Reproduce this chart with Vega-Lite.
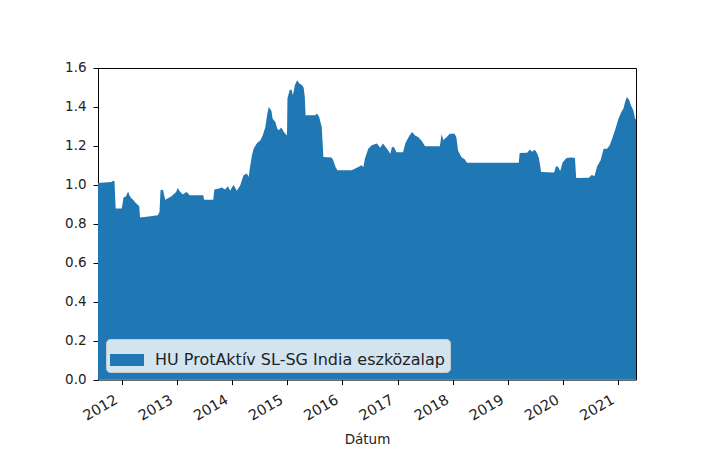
{
  "$schema": "https://vega.github.io/schema/vega-lite/v6.json",
  "width": 538,
  "height": 311.6,
  "autosize": "none",
  "padding": {"left": 98, "top": 68, "right": 71, "bottom": 88},
  "background": "white",
  "config": {
    "view": {"stroke": "black", "strokeWidth": 1},
    "font": "DejaVu Sans"
  },
  "data": {
    "values": [
      {"date": "2011-07-28", "value": 1.01},
      {"date": "2011-10-27", "value": 1.015},
      {"date": "2011-11-01", "value": 1.02},
      {"date": "2011-11-14", "value": 1.02},
      {"date": "2011-11-22", "value": 0.878},
      {"date": "2012-01-01", "value": 0.878},
      {"date": "2012-01-06", "value": 0.9},
      {"date": "2012-01-13", "value": 0.935},
      {"date": "2012-01-29", "value": 0.94},
      {"date": "2012-02-08", "value": 0.96},
      {"date": "2012-02-14", "value": 0.963},
      {"date": "2012-02-21", "value": 0.945},
      {"date": "2012-03-06", "value": 0.93},
      {"date": "2012-03-15", "value": 0.925},
      {"date": "2012-03-28", "value": 0.912},
      {"date": "2012-04-19", "value": 0.895},
      {"date": "2012-04-26", "value": 0.89},
      {"date": "2012-05-01", "value": 0.832},
      {"date": "2012-06-28", "value": 0.838},
      {"date": "2012-08-27", "value": 0.844},
      {"date": "2012-09-07", "value": 0.86},
      {"date": "2012-09-14", "value": 0.972},
      {"date": "2012-09-30", "value": 0.975},
      {"date": "2012-10-15", "value": 0.924},
      {"date": "2012-10-30", "value": 0.93},
      {"date": "2012-11-23", "value": 0.94},
      {"date": "2012-12-08", "value": 0.95},
      {"date": "2012-12-26", "value": 0.963},
      {"date": "2013-01-06", "value": 0.985},
      {"date": "2013-01-16", "value": 0.97},
      {"date": "2013-02-08", "value": 0.951},
      {"date": "2013-03-03", "value": 0.963},
      {"date": "2013-03-11", "value": 0.96},
      {"date": "2013-03-25", "value": 0.946},
      {"date": "2013-06-24", "value": 0.946},
      {"date": "2013-06-29", "value": 0.924},
      {"date": "2013-08-29", "value": 0.924},
      {"date": "2013-09-05", "value": 0.976},
      {"date": "2013-09-30", "value": 0.98},
      {"date": "2013-10-24", "value": 0.986},
      {"date": "2013-11-15", "value": 0.976},
      {"date": "2013-12-04", "value": 0.993},
      {"date": "2013-12-19", "value": 0.97},
      {"date": "2014-01-10", "value": 1.0},
      {"date": "2014-02-01", "value": 0.97},
      {"date": "2014-02-23", "value": 0.997},
      {"date": "2014-03-17", "value": 1.049},
      {"date": "2014-04-09", "value": 1.058},
      {"date": "2014-04-20", "value": 1.04},
      {"date": "2014-05-01", "value": 1.1},
      {"date": "2014-05-12", "value": 1.152},
      {"date": "2014-05-23", "value": 1.186},
      {"date": "2014-06-15", "value": 1.215},
      {"date": "2014-07-07", "value": 1.229},
      {"date": "2014-07-22", "value": 1.254},
      {"date": "2014-08-09", "value": 1.297},
      {"date": "2014-08-20", "value": 1.357},
      {"date": "2014-08-31", "value": 1.4},
      {"date": "2014-09-18", "value": 1.379},
      {"date": "2014-09-26", "value": 1.34},
      {"date": "2014-10-14", "value": 1.323},
      {"date": "2014-10-26", "value": 1.289},
      {"date": "2014-11-05", "value": 1.28},
      {"date": "2014-11-23", "value": 1.294},
      {"date": "2014-12-09", "value": 1.271},
      {"date": "2014-12-30", "value": 1.254},
      {"date": "2015-01-02", "value": 1.443},
      {"date": "2015-01-16", "value": 1.486},
      {"date": "2015-01-29", "value": 1.49},
      {"date": "2015-02-07", "value": 1.46},
      {"date": "2015-02-20", "value": 1.511},
      {"date": "2015-03-07", "value": 1.537},
      {"date": "2015-03-22", "value": 1.52},
      {"date": "2015-04-09", "value": 1.511},
      {"date": "2015-04-19", "value": 1.5},
      {"date": "2015-04-27", "value": 1.45},
      {"date": "2015-05-02", "value": 1.357},
      {"date": "2015-07-05", "value": 1.357},
      {"date": "2015-07-16", "value": 1.366},
      {"date": "2015-07-31", "value": 1.349},
      {"date": "2015-08-17", "value": 1.297},
      {"date": "2015-08-24", "value": 1.2},
      {"date": "2015-08-28", "value": 1.143},
      {"date": "2015-10-21", "value": 1.14},
      {"date": "2015-11-01", "value": 1.126},
      {"date": "2015-11-16", "value": 1.092},
      {"date": "2015-11-29", "value": 1.075},
      {"date": "2016-03-01", "value": 1.075},
      {"date": "2016-03-23", "value": 1.083},
      {"date": "2016-04-14", "value": 1.092},
      {"date": "2016-05-07", "value": 1.1},
      {"date": "2016-05-18", "value": 1.09},
      {"date": "2016-05-29", "value": 1.135},
      {"date": "2016-06-20", "value": 1.186},
      {"date": "2016-07-13", "value": 1.203},
      {"date": "2016-08-16", "value": 1.212},
      {"date": "2016-09-07", "value": 1.19},
      {"date": "2016-09-25", "value": 1.212},
      {"date": "2016-10-22", "value": 1.186},
      {"date": "2016-11-13", "value": 1.16},
      {"date": "2016-11-24", "value": 1.195},
      {"date": "2016-12-10", "value": 1.19},
      {"date": "2016-12-23", "value": 1.168},
      {"date": "2017-02-05", "value": 1.168},
      {"date": "2017-02-20", "value": 1.212},
      {"date": "2017-03-14", "value": 1.246},
      {"date": "2017-04-05", "value": 1.271},
      {"date": "2017-04-26", "value": 1.254},
      {"date": "2017-05-18", "value": 1.245},
      {"date": "2017-06-09", "value": 1.225},
      {"date": "2017-07-01", "value": 1.198},
      {"date": "2017-10-07", "value": 1.198},
      {"date": "2017-10-18", "value": 1.26},
      {"date": "2017-10-30", "value": 1.23},
      {"date": "2017-11-20", "value": 1.245},
      {"date": "2017-12-11", "value": 1.263},
      {"date": "2018-01-12", "value": 1.263},
      {"date": "2018-01-24", "value": 1.245},
      {"date": "2018-02-04", "value": 1.177},
      {"date": "2018-02-26", "value": 1.143},
      {"date": "2018-03-21", "value": 1.13},
      {"date": "2018-04-05", "value": 1.114},
      {"date": "2019-03-13", "value": 1.114},
      {"date": "2019-03-19", "value": 1.164},
      {"date": "2019-05-08", "value": 1.165},
      {"date": "2019-05-25", "value": 1.182},
      {"date": "2019-06-09", "value": 1.17},
      {"date": "2019-06-28", "value": 1.18},
      {"date": "2019-07-14", "value": 1.16},
      {"date": "2019-07-25", "value": 1.135},
      {"date": "2019-08-08", "value": 1.066},
      {"date": "2019-11-02", "value": 1.063},
      {"date": "2019-11-15", "value": 1.097},
      {"date": "2019-12-01", "value": 1.09},
      {"date": "2019-12-12", "value": 1.07},
      {"date": "2019-12-28", "value": 1.115},
      {"date": "2020-01-23", "value": 1.138},
      {"date": "2020-02-20", "value": 1.14},
      {"date": "2020-03-19", "value": 1.138},
      {"date": "2020-03-27", "value": 1.035},
      {"date": "2020-06-19", "value": 1.037},
      {"date": "2020-07-07", "value": 1.05},
      {"date": "2020-07-26", "value": 1.045},
      {"date": "2020-08-13", "value": 1.095},
      {"date": "2020-09-04", "value": 1.125},
      {"date": "2020-09-25", "value": 1.186},
      {"date": "2020-10-18", "value": 1.186},
      {"date": "2020-11-04", "value": 1.203},
      {"date": "2020-11-20", "value": 1.237},
      {"date": "2020-12-11", "value": 1.285},
      {"date": "2021-01-01", "value": 1.34},
      {"date": "2021-01-21", "value": 1.375},
      {"date": "2021-02-03", "value": 1.392},
      {"date": "2021-02-14", "value": 1.425},
      {"date": "2021-02-25", "value": 1.451},
      {"date": "2021-03-12", "value": 1.437},
      {"date": "2021-03-25", "value": 1.408},
      {"date": "2021-04-09", "value": 1.383},
      {"date": "2021-04-21", "value": 1.34},
      {"date": "2021-04-27", "value": 1.335}
    ]
  },
  "mark": {"type": "area", "interpolate": "linear"},
  "encoding": {
    "x": {
      "field": "date",
      "type": "temporal",
      "scale": {"nice": false},
      "axis": {
        "title": "Dátum",
        "titleFontSize": 13.5,
        "titleFontWeight": "normal",
        "titleColor": "#222",
        "titlePadding": 10,
        "format": "%Y",
        "tickCount": {"interval": "year", "step": 1},
        "grid": false,
        "domain": false,
        "ticks": true,
        "tickSize": 5,
        "tickColor": "black",
        "labelAngle": -30,
        "labelAlign": "right",
        "labelBaseline": "top",
        "labelPadding": 8,
        "labelOffset": -9,
        "labelFontSize": 14.5,
        "labelColor": "#222",
        "labelFlush": false,
        "labelOverlap": false
      }
    },
    "y": {
      "field": "value",
      "type": "quantitative",
      "scale": {"domain": [0, 1.6], "nice": false, "zero": true},
      "axis": {
        "title": null,
        "values": [0, 0.2, 0.4, 0.6, 0.8, 1.0, 1.2, 1.4, 1.6],
        "format": ".1f",
        "grid": false,
        "domain": false,
        "tickSize": 5,
        "tickColor": "black",
        "labelPadding": 7,
        "labelFontSize": 13.5,
        "labelColor": "#222",
        "labelFlush": false,
        "labelOverlap": false
      }
    },
    "color": {
      "datum": "HU ProtAktív SL-SG India eszközalap",
      "type": "nominal",
      "scale": {"range": ["#1f77b4"]},
      "legend": {
        "title": null,
        "orient": "bottom-left",
        "offset": 8,
        "padding": 4,
        "fillColor": "#d2e4f0",
        "strokeColor": "#c8ccd0",
        "cornerRadius": 4,
        "symbolType": "M-1,-0.35H1V0.35H-1Z",
        "symbolSize": 1156,
        "symbolStrokeWidth": 0,
        "symbolOpacity": 1,
        "labelFontSize": 16,
        "labelLimit": 0,
        "labelOffset": 11,
        "labelColor": "#222"
      }
    }
  }
}
